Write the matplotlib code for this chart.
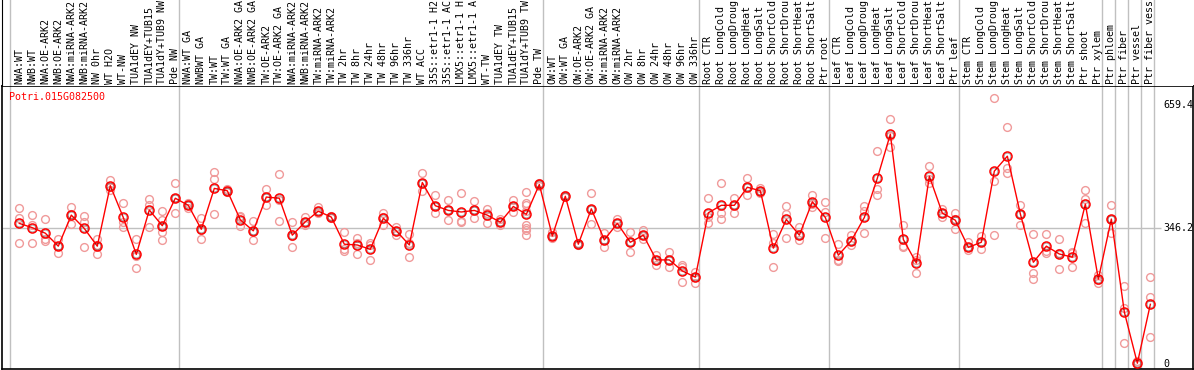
import numpy as np
import matplotlib.pyplot as plt
from matplotlib.transforms import blended_transform_factory

gene = "Potri.015G082500"

labels = ["NWA:WT", "NWB:WT", "NWA:OE-ARK2", "NWB:OE-ARK2", "NWA:miRNA-ARK2", "NWB:miRNA-ARK2",
          "NW 0hr", "WT H2O", "WT-NW", "TUA1dEY NW", "TUA1dEY+TUB15", "TUA1dY+TUB9 NW", "Pde NW",
          "NWA:WT GA", "NWBWT GA", "TW:WT", "TW:WT GA", "NWA:OE-ARK2 GA", "NWB:OE-ARK2 GA",
          "TW:OE-ARK2", "TW:OE-ARK2 GA", "NWA:miRNA-ARK2", "NWB:miRNA-ARK2", "TW:miRNA-ARK2",
          "TW:miRNA-ARK2", "TW 2hr", "TW 8hr", "TW 24hr", "TW 48hr", "TW 96hr", "TW 336hr", "WT ACC",
          "35S::etr1-1 H2O", "35S::etr1-1 ACC", "LMX5::etr1-1 H2O", "LMX5::etr1-1 ACC", "WT-TW",
          "TUA1dEY TW", "TUA1dEY+TUB15", "TUA1dY+TUB9 TW", "Pde TW",
          "OW:WT", "OW:WT GA", "OW:OE-ARK2", "OW:OE-ARK2 GA", "OW:miRNA-ARK2", "OW:miRNA-ARK2",
          "OW 2hr", "OW 8hr", "OW 24hr", "OW 48hr", "OW 96hr", "OW 336hr",
          "Root CTR", "Root LongCold", "Root LongDrought", "Root LongHeat", "Root LongSalt",
          "Root ShortCold", "Root ShortDrought", "Root ShortHeat", "Root ShortSalt", "Ptr root",
          "Leaf CTR", "Leaf LongCold", "Leaf LongDrought", "Leaf LongHeat", "Leaf LongSalt",
          "Leaf ShortCold", "Leaf ShortDrought", "Leaf ShortHeat", "Leaf ShortSalt", "Ptr leaf",
          "Stem CTR", "Stem LongCold", "Stem LongDrought", "Stem LongHeat", "Stem LongSalt",
          "Stem ShortCold", "Stem ShortDrought", "Stem ShortHeat", "Stem ShortSalt", "Ptr shoot",
          "Ptr xylem", "Ptr phloem", "Ptr fiber", "Ptr vessel", "Ptr fiber vessel"]

mean_expr = [358, 347, 333, 300, 379, 345, 300, 454, 373, 279, 392, 352, 422,
             404, 343, 447, 441, 367, 339, 425, 422, 328, 362, 389, 374, 305, 303, 292, 371,
             339, 303, 462, 403, 391, 387, 391, 379, 361, 401, 381, 457,
             326, 427, 305, 395, 316, 358, 310, 328, 265, 265, 237, 221,
             385, 404, 404, 450, 441, 295, 368, 328, 413, 373,
             277, 314, 373, 473, 585, 317, 257, 478, 384, 366,
             297, 310, 491, 529, 382, 259, 300, 280, 272, 407, 216,
             369, 132, 2, 152]

rep_expr = [[396, 372, 309], [379, 353, 309], [368, 317, 312], [317, 282, 301],
            [400, 356, 381], [378, 361, 297], [318, 303, 279], [468, 451, 443],
            [409, 361, 350], [318, 275, 244], [420, 405, 350], [389, 367, 352, 335, 316],
            [460, 422, 384],
            [411, 404, 397], [371, 341, 317], [488, 470, 381], [445, 441, 437],
            [377, 373, 351], [363, 339, 315], [446, 425, 405], [484, 418, 364],
            [361, 326, 297], [375, 362, 354], [400, 389, 384], [376, 374, 372],
            [335, 293, 287], [321, 308, 280], [307, 304, 265], [385, 374, 354],
            [350, 339, 328], [330, 307, 272], [485, 462, 441], [430, 403, 384],
            [418, 391, 366], [435, 364, 362], [415, 391, 371], [395, 384, 358],
            [368, 361, 354], [418, 401, 388], [439, 411, 405, 390, 354, 347, 340, 328],
            [461, 457, 453],
            [337, 326, 320], [430, 427, 424], [307, 305, 303], [435, 395, 356],
            [333, 316, 297], [368, 358, 350], [335, 310, 284], [341, 328, 318],
            [278, 265, 252], [284, 265, 246], [253, 248, 210], [235, 221, 207],
            [422, 375, 358], [462, 384, 368], [422, 404, 384], [473, 450, 429],
            [447, 441, 435], [330, 309, 246], [401, 381, 320], [350, 328, 316],
            [431, 408, 400], [412, 386, 320],
            [305, 265, 261], [328, 314, 303], [402, 390, 333], [542, 446, 429],
            [623, 580, 552], [354, 300, 297], [273, 266, 232], [503, 472, 460],
            [395, 384, 375], [385, 369, 343],
            [311, 297, 290], [327, 310, 293], [676, 466, 328], [603, 500, 487],
            [405, 382, 354], [330, 232, 216], [330, 288, 282], [318, 282, 241],
            [286, 282, 248], [443, 419, 360], [227, 214, 207],
            [404, 369, 334], [199, 142, 53], [8, 0, 0], [221, 170, 68]]

group_starts = [0, 13, 41, 53, 63, 73, 84, 85, 86, 87, 88]
ref_level = 346.2
top_level = 659.4

mono = "DejaVu Sans Mono"
fs = 7.2
grey = "#c0c0c0"
max_chars = 14  # header only has room for this many characters

W, H = 1194, 370
fig = plt.figure(figsize=(W / 100, H / 100), dpi=100)
ax = fig.add_axes([2 / W, 1 / H, 1191 / W, 283 / H])
hd = fig.add_axes([2 / W, 284 / H, 1191 / W, 86 / H])

x = np.arange(len(labels))
for a in (ax, hd):
    a.set_xlim(-1.33, 90.28)
    a.set_xticks([])
    a.set_yticks([])
    for g in group_starts:
        a.axvline(g - 0.715, color=grey, lw=1, zorder=0)
ax.set_ylim(-12.7, 707.7)
hd.set_ylim(0, 86)
for s in ["top", "right", "bottom"]:
    hd.spines[s].set_visible(False)
for s in ax.spines.values():
    s.set_linewidth(1.2)

# sample names, cut to the header height like the original
for i, lab in enumerate(labels):
    hd.text(i, 2, lab[:max_chars], rotation=90, ha="center", va="bottom",
            family=mono, fontsize=fs, color="black")

ax.hlines(ref_level, -1.33, 87.8, color=grey, lw=1, zorder=0)

# replicates
for i, reps in enumerate(rep_expr):
    ax.plot([i] * len(reps), reps, "o", ms=5.6, mfc="none", mec="#f09a9a", mew=1.0, zorder=2)

ax.plot(x, mean_expr, color="red", lw=1, zorder=3)
ax.plot(x, mean_expr, "o", ms=6.5, mfc="none", mec="red", mew=1.1, zorder=4)
ax.plot(x, mean_expr, "o", ms=4.8, mfc="none", mec="black", mew=0.4, alpha=0.5, zorder=5)

tr = blended_transform_factory(ax.transAxes, ax.transData)
for v, s in [(top_level, "659.4"), (ref_level, "346.2"), (0, "0")]:
    ax.text(0.975, v, s, transform=tr, ha="left", va="center", family=mono, fontsize=fs)

ax.text(0.006, 0.961, gene, transform=ax.transAxes, ha="left", va="center",
        family=mono, fontsize=fs, color="red")

fig.savefig("out.png", dpi=100)
